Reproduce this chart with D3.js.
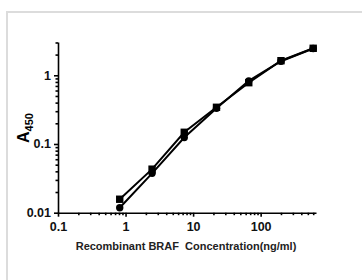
<!DOCTYPE html>
<html>
<head>
<meta charset="utf-8">
<script src="https://cdn.jsdelivr.net/npm/d3@7"></script>
<style>
  body { margin: 0; background: #fff; }
  svg { display: block; font-family: "Liberation Sans", Arial, sans-serif; }
  .axis path, .axis line { stroke: #000; stroke-width: 1.6; }
  .axis text { font-size: 12.5px; font-weight: bold; fill: #111; }
</style>
</head>
<body>
<svg width="362" height="280"></svg>
<script>
'use strict';

// concentrations (ng/ml), 3-fold dilution series
const conc = [0.82, 2.47, 7.4, 22.2, 66.7, 200, 600];
// A450 readings, two replicate curves
const seriesSquare = [0.0157, 0.043, 0.148, 0.342, 0.78, 1.63, 2.47];
const seriesCircle = [0.0118, 0.0374, 0.124, 0.33, 0.83, 1.6, 2.45];
const xTicks = [0.1, 1, 10, 100];
const yTicks = [0.01, 0.1, 1];

const svg = d3.select("svg");
const margin = {top: 42, left: 58};
const width = 316 - 58, height = 212.7 - 42;

// outer frame
svg.append("rect")
    .attr("x", 7).attr("y", 12)
    .attr("width", 380).attr("height", 300)
    .attr("fill", "none")
    .attr("stroke", "#dcdcdc")
    .attr("stroke-width", 2);

const g = svg.append("g")
    .attr("transform", "translate(" + margin.left + "," + margin.top + ")");

const x = d3.scaleLog().domain([0.1, 660]).range([0, width]);
const y = d3.scaleLog().domain([0.01, 3.05]).range([height, 0]);

// minor ticks 2..9 of each decade
function minors(lo, hi) {
  const out = [];
  for (let p = Math.floor(Math.log10(lo)); p <= Math.ceil(Math.log10(hi)); p++) {
    for (let k = 2; k <= 9; k++) {
      const v = k * Math.pow(10, p);
      if (v > lo && v <= hi) out.push(v);
    }
  }
  return out;
}

const xAxis = g.append("g")
    .attr("class", "axis axis--x")
    .attr("transform", "translate(0," + height + ")")
    .call(d3.axisBottom(x).tickValues(xTicks).tickFormat(d3.format("~g"))
      .tickSize(4).tickSizeOuter(0).tickPadding(3));
xAxis.selectAll(".tick text").attr("dy", "0.88em");

g.append("g")
    .attr("class", "axis")
    .attr("transform", "translate(0," + height + ")")
    .call(d3.axisBottom(x).tickValues(minors(0.1, 660)).tickFormat("").tickSize(2.5))
    .select(".domain").remove();

g.append("g")
    .attr("class", "axis axis--y")
    .call(d3.axisLeft(y).tickValues(yTicks).tickFormat(d3.format("~g"))
      .tickSize(4).tickSizeOuter(0).tickPadding(3));

g.append("g")
    .attr("class", "axis")
    .call(d3.axisLeft(y).tickValues(minors(0.01, 3.05)).tickFormat("").tickSize(2.5))
    .select(".domain").remove();

// curves
const pts = (vals) => conc.map((c, i) => [c, vals[i]]);
const line = d3.line().x(d => x(d[0])).y(d => y(d[1]));

[seriesCircle, seriesSquare].forEach(vals => {
  g.append("path")
      .datum(pts(vals))
      .attr("fill", "none")
      .attr("stroke", "#000")
      .attr("stroke-width", 2)
      .attr("d", line);
});

g.selectAll(".pt-circle")
    .data(pts(seriesCircle))
    .join("circle")
    .attr("class", "pt-circle")
    .attr("cx", d => x(d[0]))
    .attr("cy", d => y(d[1]))
    .attr("r", 3.7)
    .attr("fill", "#000");

g.selectAll(".pt-square")
    .data(pts(seriesSquare))
    .join("rect")
    .attr("class", "pt-square")
    .attr("x", d => x(d[0]) - 3.7)
    .attr("y", d => y(d[1]) - 3.7)
    .attr("width", 7.4)
    .attr("height", 7.4)
    .attr("fill", "#000");

// axis titles
svg.append("text")
    .attr("x", 186)
    .attr("y", 250)
    .attr("text-anchor", "middle")
    .attr("font-size", "11px")
    .attr("font-weight", "bold")
    .attr("fill", "#222")
    .style("white-space", "pre")
    .text("Recombinant BRAF  Concentration(ng/ml)");

const yl = svg.append("text")
    .attr("transform", "translate(29,128) rotate(-90)")
    .attr("text-anchor", "middle")
    .attr("font-weight", "bold")
    .attr("fill", "#000");
yl.append("tspan").attr("font-size", "16px").text("A");
yl.append("tspan").attr("font-size", "11px").attr("dy", "4").text("450");
</script>
</body>
</html>
